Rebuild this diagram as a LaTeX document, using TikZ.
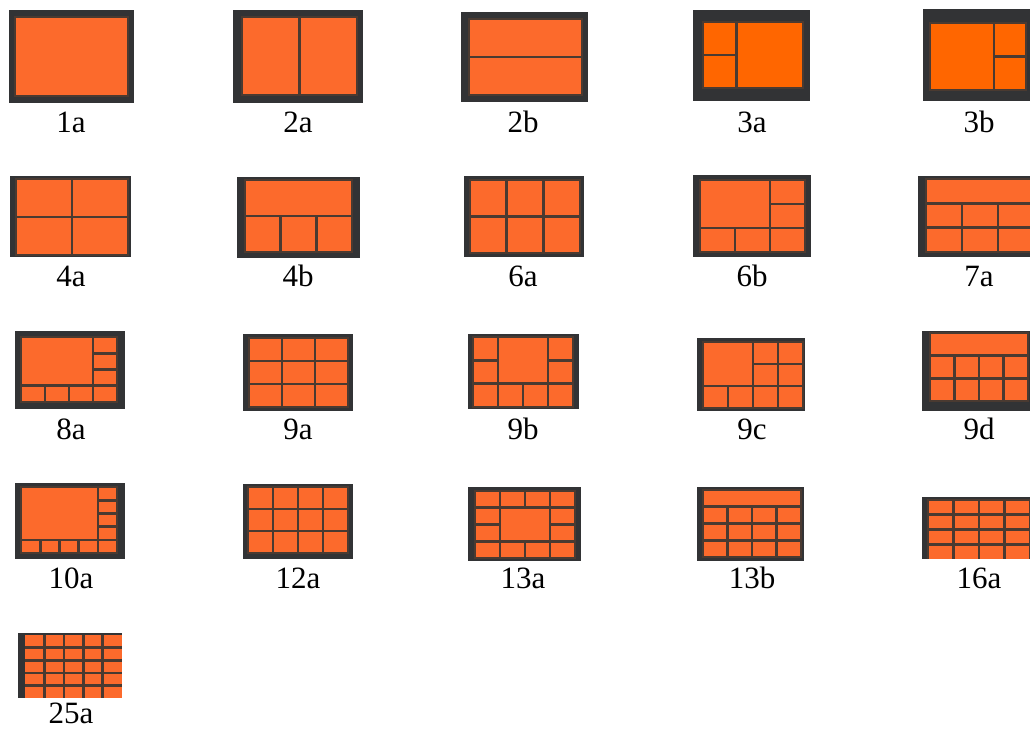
\documentclass[tikz,border=0pt]{standalone}
\usepackage{fontspec}
\setmainfont{Liberation Serif}

\definecolor{koyugri}{HTML}{323335}
\definecolor{turuncu}{HTML}{FC6A2C}
\definecolor{canlituruncu}{HTML}{FF6600}
\definecolor{ayraccizgi}{HTML}{4A3A31}

\tikzset{
  cerceve/.style={fill=koyugri},
  pano/.style={fill=turuncu, draw=ayraccizgi, line width=1.2pt},
  ayrac/.style={draw=ayraccizgi, line width=2.6pt},
  etiket/.style={anchor=base, font=\fontsize{31}{31}\selectfont, inner sep=0pt},
}

\begin{document}
\begin{tikzpicture}[x=1pt, y=-1pt]
  \useasboundingbox (0,0) rectangle (1030,729);
  \clip (0,0) rectangle (1030,729);

  % Satır 1
  % 1a
  \fill[cerceve] (9,10) rectangle (134,103);
  \draw[pano] (15,17) rectangle (128,96);
  \node[etiket] (e1a) at (71,132) {1a};

  % 2a
  \fill[cerceve] (233,10) rectangle (363,103);
  \begin{scope}[shift={(242,17)}, x=115pt, y=-78pt]
    \draw[pano] (0,0) rectangle (1,1);
    \draw[ayrac] (0.5,0) -- (0.5,1);
  \end{scope}
  \node[etiket] (e2a) at (298,132) {2a};

  % 2b
  \fill[cerceve] (461,12) rectangle (588,102);
  \begin{scope}[shift={(469,19)}, x=113pt, y=-76pt]
    \draw[pano] (0,0) rectangle (1,1);
    \draw[ayrac] (0,0.5) -- (1,0.5);
  \end{scope}
  \node[etiket] (e2b) at (523,132) {2b};

  % 3a
  \fill[cerceve] (693,10) rectangle (810,101);
  \begin{scope}[shift={(703,22)}, x=100pt, y=-66pt]
    \draw[pano, fill=canlituruncu] (0,0) rectangle (1,1);
    \draw[ayrac] (1/3,0) -- (1/3,1) (0,0.5) -- (1/3,0.5);
  \end{scope}
  \node[etiket] (e3a) at (752,132) {3a};

  % 3b
  \fill[cerceve] (923,9) rectangle (1036,101);
  \begin{scope}[shift={(930,23)}, x=96pt, y=-67pt]
    \draw[pano, fill=canlituruncu] (0,0) rectangle (1,1);
    \draw[ayrac] (2/3,0) -- (2/3,1) (2/3,0.5) -- (1,0.5);
  \end{scope}
  \node[etiket] (e3b) at (979,132) {3b};

  % Satır 2
  % 4a
  \fill[cerceve] (10,176) rectangle (131,257);
  \begin{scope}[shift={(16,179)}, x=112pt, y=-76pt]
    \draw[pano] (0,0) rectangle (1,1);
    \draw[ayrac] (0.5,0) -- (0.5,1) (0,0.5) -- (1,0.5);
  \end{scope}
  \node[etiket] (e4a) at (71,286) {4a};

  % 4b
  \fill[cerceve] (237,177) rectangle (360,258);
  \begin{scope}[shift={(245,180)}, x=107pt, y=-72pt]
    \draw[pano] (0,0) rectangle (1,1);
    \draw[ayrac] (0,0.5) -- (1,0.5);
    \foreach \i in {1,2}
      \draw[ayrac] (\i/3,0.5) -- (\i/3,1);
  \end{scope}
  \node[etiket] (e4b) at (298,286) {4b};

  % 6a
  \fill[cerceve] (464,176) rectangle (584,257);
  \begin{scope}[shift={(470,180)}, x=110pt, y=-73pt]
    \draw[pano] (0,0) rectangle (1,1);
    \foreach \i in {1,2}
      \draw[ayrac] (\i/3,0) -- (\i/3,1);
    \draw[ayrac] (0,0.5) -- (1,0.5);
  \end{scope}
  \node[etiket] (e6a) at (523,286) {6a};

  % 6b
  \fill[cerceve] (693,175) rectangle (811,257);
  \begin{scope}[shift={(700,180)}, x=105pt, y=-72pt]
    \draw[pano] (0,0) rectangle (1,1);
    \draw[ayrac] (2/3,0) -- (2/3,1) (0,2/3) -- (1,2/3);
    \draw[ayrac] (1/3,2/3) -- (1/3,1) (2/3,1/3) -- (1,1/3);
  \end{scope}
  \node[etiket] (e6b) at (752,286) {6b};

  % 7a
  \fill[cerceve] (918,176) rectangle (1040,257);
  \begin{scope}[shift={(926,179)}, x=108pt, y=-73pt]
    \draw[pano] (0,0) rectangle (1,1);
    \foreach \i in {1,2} {
      \draw[ayrac] (0,\i/3) -- (1,\i/3);
      \draw[ayrac] (\i/3,1/3) -- (\i/3,1);
    }
  \end{scope}
  \node[etiket] (e7a) at (979,286) {7a};

  % Satır 3
  % 8a
  \fill[cerceve] (15,331) rectangle (125,409);
  \begin{scope}[shift={(21,337)}, x=96pt, y=-65pt]
    \draw[pano] (0,0) rectangle (1,1);
    \draw[ayrac] (0.75,0) -- (0.75,1) (0,0.75) -- (1,0.75);
    \foreach \i in {0.25,0.5} {
      \draw[ayrac] (\i,0.75) -- (\i,1);
      \draw[ayrac] (0.75,\i) -- (1,\i);
    }
  \end{scope}
  \node[etiket] (e8a) at (71,439) {8a};

  % 9a
  \fill[cerceve] (243,334) rectangle (353,411);
  \begin{scope}[shift={(249,338)}, x=99pt, y=-69pt]
    \draw[pano] (0,0) rectangle (1,1);
    \foreach \i in {1,2} {
      \draw[ayrac] (\i/3,0) -- (\i/3,1);
      \draw[ayrac] (0,\i/3) -- (1,\i/3);
    }
  \end{scope}
  \node[etiket] (e9a) at (298,439) {9a};

  % 9b
  \fill[cerceve] (468,334) rectangle (579,409);
  \begin{scope}[shift={(473,337)}, x=100pt, y=-70pt]
    \draw[pano] (0,0) rectangle (1,1);
    \draw[ayrac] (0.25,0) -- (0.25,1) (0.75,0) -- (0.75,1);
    \draw[ayrac] (0.5,2/3) -- (0.5,1) (0,2/3) -- (1,2/3);
    \draw[ayrac] (0,1/3) -- (0.25,1/3) (0.75,1/3) -- (1,1/3);
  \end{scope}
  \node[etiket] (e9b) at (523,439) {9b};

  % 9c
  \fill[cerceve] (697,338) rectangle (805,411);
  \begin{scope}[shift={(703,342)}, x=100pt, y=-66pt]
    \draw[pano] (0,0) rectangle (1,1);
    \draw[ayrac] (0.5,0) -- (0.5,1) (0.75,0) -- (0.75,1);
    \draw[ayrac] (0.25,2/3) -- (0.25,1) (0,2/3) -- (1,2/3);
    \draw[ayrac] (0.5,1/3) -- (1,1/3);
  \end{scope}
  \node[etiket] (e9c) at (752,439) {9c};

  % 9d
  \fill[cerceve] (922,331) rectangle (1036,411);
  \begin{scope}[shift={(930,333)}, x=98pt, y=-68pt]
    \draw[pano] (0,0) rectangle (1,1);
    \foreach \i in {1,2}
      \draw[ayrac] (0,\i/3) -- (1,\i/3);
    \foreach \i in {0.25,0.5,0.75}
      \draw[ayrac] (\i,1/3) -- (\i,1);
  \end{scope}
  \node[etiket] (e9d) at (979,439) {9d};

  % Satır 4
  % 10a
  \fill[cerceve] (15,483) rectangle (125,559);
  \begin{scope}[shift={(21,487)}, x=96pt, y=-66pt]
    \draw[pano] (0,0) rectangle (1,1);
    \draw[ayrac] (0.8,0) -- (0.8,1) (0,0.8) -- (1,0.8);
    \foreach \i in {0.2,0.4,0.6} {
      \draw[ayrac] (\i,0.8) -- (\i,1);
      \draw[ayrac] (0.8,\i) -- (1,\i);
    }
  \end{scope}
  \node[etiket] (e10a) at (71,588) {10a};

  % 12a
  \fill[cerceve] (243,484) rectangle (353,559);
  \begin{scope}[shift={(248,487)}, x=100pt, y=-66pt]
    \draw[pano] (0,0) rectangle (1,1);
    \foreach \i in {0.25,0.5,0.75}
      \draw[ayrac] (\i,0) -- (\i,1);
    \foreach \i in {1,2}
      \draw[ayrac] (0,\i/3) -- (1,\i/3);
  \end{scope}
  \node[etiket] (e12a) at (298,588) {12a};

  % 13a
  \fill[cerceve] (468,487) rectangle (581,561);
  \begin{scope}[shift={(475,491)}, x=100pt, y=-67pt]
    \draw[pano] (0,0) rectangle (1,1);
    \draw[ayrac] (0.25,0) -- (0.25,1) (0.75,0) -- (0.75,1);
    \draw[ayrac] (0,0.25) -- (1,0.25) (0,0.75) -- (1,0.75);
    \draw[ayrac] (0.5,0) -- (0.5,0.25) (0.5,0.75) -- (0.5,1);
    \draw[ayrac] (0,0.5) -- (0.25,0.5) (0.75,0.5) -- (1,0.5);
  \end{scope}
  \node[etiket] (e13a) at (523,588) {13a};

  % 13b
  \fill[cerceve] (697,487) rectangle (804,561);
  \begin{scope}[shift={(703,490)}, x=98pt, y=-67pt]
    \draw[pano] (0,0) rectangle (1,1);
    \foreach \i in {0.25,0.5,0.75} {
      \draw[ayrac] (0,\i) -- (1,\i);
      \draw[ayrac] (\i,0.25) -- (\i,1);
    }
  \end{scope}
  \node[etiket] (e13b) at (752,588) {13b};

  % 16a
  \fill[cerceve] (922,497) rectangle (1040,559);
  \begin{scope}[shift={(928,500)}, x=102pt, y=-59pt]
    \fill[turuncu] (0,0) rectangle (1.2,1);
    \draw[ayraccizgi, line width=1.2pt] (0,1) -- (0,0) -- (1.2,0);
    \foreach \i in {0.25,0.5,0.75} {
      \draw[ayrac] (\i,0) -- (\i,1);
      \draw[ayrac] (0,\i) -- (1.2,\i);
    }
    \draw[ayrac] (1,0) -- (1,1);
  \end{scope}
  \node[etiket] (e16a) at (979,588) {16a};

  % Satır 5
  % 25a
  \fill[cerceve] (18,633) rectangle (122,698);
  \begin{scope}[shift={(25,635)}, x=97pt, y=-63pt]
    \fill[turuncu] (0,0) rectangle (1,1);
    \foreach \i in {0.2,0.4,0.6,0.8} {
      \draw[ayrac] (\i,0) -- (\i,1);
      \draw[ayrac] (0,\i) -- (1,\i);
    }
  \end{scope}
  \node[etiket] (e25a) at (71,723) {25a};
\end{tikzpicture}
\end{document}
